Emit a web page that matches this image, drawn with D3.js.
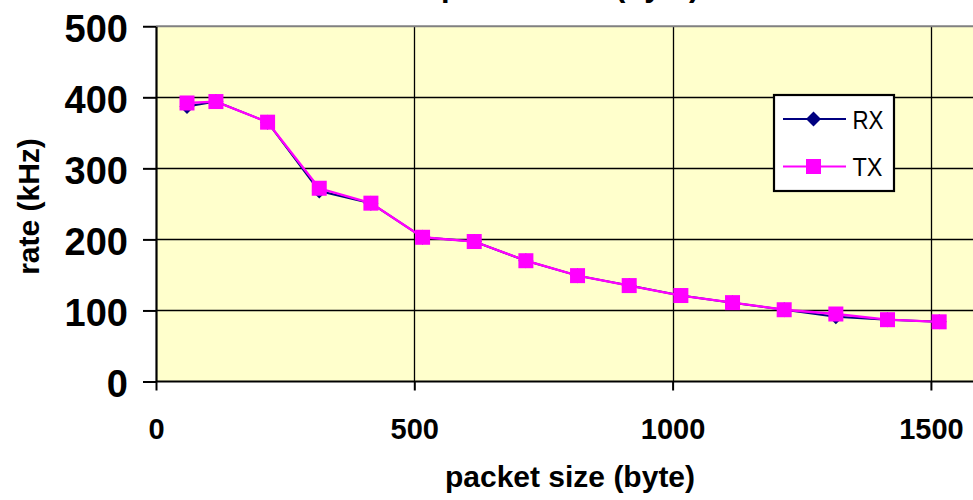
<!DOCTYPE html>
<html>
<head>
<meta charset="utf-8">
<script src="https://cdn.jsdelivr.net/npm/d3@7/dist/d3.min.js"></script>
<style>
  html, body { margin: 0; padding: 0; background: #ffffff; }
  svg { display: block; font-family: "Liberation Sans", Arial, sans-serif; }
</style>
</head>
<body>
<svg id="chart" width="973" height="500"></svg>
<script>
// Packet size (bytes) on the x axis
const packetSizes = [60, 116, 216, 316, 416, 516, 616, 716, 816, 916, 1016, 1116, 1216, 1316, 1416, 1516];
// Receive and transmit rates (kHz)
const rxRate = [387, 394, 365, 268, 251, 203, 197, 170, 149, 135, 121, 111, 101, 91, 87, 84];
const txRate = [392, 394, 365, 272, 251, 203, 197, 170, 149, 135, 121, 111, 101, 95, 87, 84];
const seriesNames = ["RX", "TX"];
const xTicks = [0, 500, 1000, 1500];
const yTicks = [0, 100, 200, 300, 400, 500];
const titleText = "packet size (byte)";
const xLabel = "packet size (byte)";
const yLabel = "rate (kHz)";

const W = 973, H = 500;
const plotLeft = 156, plotTop = 26.25, plotBottom = 381.5;
const pxPerByte = (414.3 - 156) / 500;

const svg = d3.select("#chart");

const x = d3.scaleLinear().domain([0, 2000]).range([plotLeft, plotLeft + 2000 * pxPerByte]);
const y = d3.scaleLinear().domain([0, 500]).range([plotBottom, plotTop]);

// Plot area background
svg.append("rect")
  .attr("x", plotLeft).attr("y", plotTop)
  .attr("width", W - plotLeft + 10).attr("height", plotBottom - plotTop)
  .attr("fill", "#FFFFCC");

// Gridlines
const grid = svg.append("g");
grid.selectAll("line.h")
  .data(yTicks.filter(v => v > 0 && v < 500))
  .join("line")
  .attr("x1", plotLeft).attr("x2", W + 10)
  .attr("y1", d => Math.round(y(d)) + 0.5).attr("y2", d => Math.round(y(d)) + 0.5)
  .attr("stroke", "#000").attr("stroke-width", 1.3);
grid.selectAll("line.v")
  .data(xTicks.filter(v => v > 0))
  .join("line")
  .attr("x1", d => Math.round(x(d)) + 0.5).attr("x2", d => Math.round(x(d)) + 0.5)
  .attr("y1", plotTop).attr("y2", plotBottom)
  .attr("stroke", "#000").attr("stroke-width", 1.3);

// Plot area top border
svg.append("line")
  .attr("x1", plotLeft).attr("x2", W + 10)
  .attr("y1", plotTop).attr("y2", plotTop)
  .attr("stroke", "#808080").attr("stroke-width", 2);

// Axes
const yAxis = svg.append("g")
  .attr("transform", `translate(${plotLeft},0)`)
  .call(d3.axisLeft(y).tickValues(yTicks).tickSize(13).tickSizeOuter(0).tickPadding(14));
yAxis.select(".domain").attr("stroke", "#000").attr("stroke-width", 2.2);
yAxis.selectAll(".tick line").attr("stroke", "#000").attr("stroke-width", 2);
yAxis.selectAll(".tick text")
  .attr("fill", "#000")
  .attr("font-family", "'Liberation Sans', Arial, sans-serif")
  .attr("font-size", 38).attr("font-weight", "bold")
  .attr("x", -28).attr("dy", "0.4em");

const xAxis = svg.append("g")
  .attr("transform", `translate(0,${plotBottom})`)
  .call(d3.axisBottom(x).tickValues(xTicks).tickSize(9).tickSizeOuter(0).tickFormat(d3.format("d")));
xAxis.select(".domain").attr("d", `M${plotLeft},0H${W + 10}`).attr("stroke", "#000").attr("stroke-width", 2.2);
xAxis.selectAll(".tick line").attr("stroke", "#000").attr("stroke-width", 2);
xAxis.selectAll(".tick text")
  .attr("fill", "#000")
  .attr("font-family", "'Liberation Sans', Arial, sans-serif")
  .attr("font-size", 29).attr("font-weight", "bold")
  .attr("y", 57).attr("dy", 0);

// Axis titles
svg.append("text")
  .attr("x", 570).attr("y", 487)
  .attr("text-anchor", "middle")
  .attr("font-size", 30).attr("font-weight", "bold")
  .text(xLabel);
svg.append("text")
  .attr("transform", "translate(39,206.5) rotate(-90)")
  .attr("text-anchor", "middle")
  .attr("font-size", 30).attr("font-weight", "bold")
  .text(yLabel);

// Chart title (sits above the top edge)
svg.append("text")
  .attr("x", 441).attr("y", -4.5)
  .attr("font-size", 31).attr("font-weight", "bold")
  .text(titleText);

// Series
const line = d3.line().x(d => x(d[0])).y(d => y(d[1]));
const rxData = packetSizes.map((p, i) => [p, rxRate[i]]);
const txData = packetSizes.map((p, i) => [p, txRate[i]]);

const diamond = s => `M0,${-s}L${s},0L0,${s}L${-s},0Z`;

svg.append("path").datum(rxData)
  .attr("d", line).attr("fill", "none")
  .attr("stroke", "#000080").attr("stroke-width", 2);
svg.append("g").selectAll("path")
  .data(rxData).join("path")
  .attr("transform", d => `translate(${x(d[0])},${y(d[1])})`)
  .attr("d", diamond(7.5)).attr("fill", "#000080");

svg.append("path").datum(txData)
  .attr("d", line).attr("fill", "none")
  .attr("stroke", "#FF00FF").attr("stroke-width", 2.3);
svg.append("g").selectAll("rect")
  .data(txData).join("rect")
  .attr("x", d => x(d[0]) - 7.5).attr("y", d => y(d[1]) - 7.5)
  .attr("width", 15).attr("height", 15)
  .attr("fill", "#FF00FF");

// Legend
const lg = svg.append("g");
lg.append("rect")
  .attr("x", 774).attr("y", 95).attr("width", 120).attr("height", 96)
  .attr("fill", "#fff").attr("stroke", "#000").attr("stroke-width", 2.2);
const rows = [
  { name: seriesNames[0], cy: 119, color: "#000080", shape: "diamond", len: 31 },
  { name: seriesNames[1], cy: 166.5, color: "#FF00FF", shape: "square", len: 30 }
];
rows.forEach(r => {
  lg.append("line")
    .attr("x1", 783).attr("x2", 846).attr("y1", r.cy).attr("y2", r.cy)
    .attr("stroke", r.color).attr("stroke-width", 2.2);
  if (r.shape === "diamond") {
    lg.append("path").attr("transform", `translate(813.5,${r.cy})`)
      .attr("d", diamond(7.5)).attr("fill", r.color);
  } else {
    lg.append("rect").attr("x", 806).attr("y", r.cy - 7.5)
      .attr("width", 15).attr("height", 15).attr("fill", r.color);
  }
  lg.append("text")
    .attr("x", 852.5).attr("y", r.cy + 9.5)
    .attr("font-size", 26)
    .attr("textLength", r.len).attr("lengthAdjust", "spacingAndGlyphs")
    .text(r.name);
});
</script>
</body>
</html>
